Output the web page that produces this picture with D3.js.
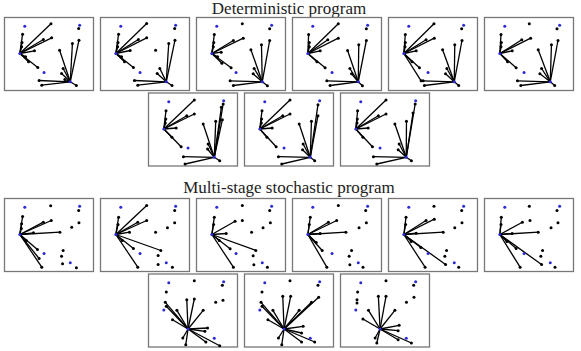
<!DOCTYPE html>
<html>
<head>
<meta charset="utf-8">
<script src="https://cdn.jsdelivr.net/npm/d3@7"></script>
<style>
  html, body { margin: 0; padding: 0; background: #fff; }
  svg { display: block; }
</style>
</head>
<body>
<svg id="chart" width="581" height="351"></svg>
<script>
// Candidate facility sites (blue), shared by every panel: [x, y] in panel units.
const sites = [[20.5, 8.7], [76, 7.7], [15.5, 36], [40, 55], [66.5, 64.3]];

// Customers per scenario: [x, y, site it is assigned to, or -1 if unserved].
const det1 = [[47,6.3,2],[18.3,16.7,2],[17.7,25,2],[17.3,29.3,2],[39.3,22,2],[47.7,20.3,2],[30.3,33.3,2],[21.3,39.3,2],[24.3,44.3,2],[33.7,50,2],
  [75,11,-1],[55.7,32.7,4],[68.7,26,4],[75.3,22.7,4],[59.3,51,4],[57.7,56,4],[35,63,4],[37.7,67.7,4],[72.7,68,4],[61,62,4]];
const det2 = [[46.7,6,2],[18.3,16.7,2],[17.7,25,2],[17.3,29.3,2],[38.3,22,2],[46.7,20.3,2],[30,33,2],[21.3,39.3,2],[24.3,44.3,2],[33.3,50,2],
  [75,11,-1],[55.7,32.7,-1],[69,26,4],[75.3,22.7,4],[60,51,4],[57.3,56,4],[34.3,63,4],[37.7,67.7,4],[72.3,68,4]];
const det3 = [[46.3,6.3,-1],[18,17,2],[17.5,25,2],[17,29.3,2],[37.3,23,2],[47.3,20.7,2],[25,34.7,2],[21.3,39.3,2],[25.7,45.7,2],[35,50.3,2],
  [74,11.3,-1],[55,32.3,4],[65.7,27.3,4],[74,23,4],[58.3,51,4],[57.3,56.3,4],[34,63.3,4],[37.3,68,4],[71.7,68.3,4]];
const det4 = [[46.3,6.3,2],[16.3,17,2],[17,25,2],[17,29.3,2],[35.7,22.3,2],[46.3,20.7,2],[28,33.3,2],[24.7,44.3,2],[33,50.3,2],
  [74.7,11.3,-1],[55.7,33,4],[67,27.3,4],[74.7,23,4],[58,51,4],[59.7,56.3,4],[34.7,63.3,4],[38,68,4],[70.7,68.3,4]];
const det5 = [[46,6.3,2],[17,17,2],[17,25,2],[16.7,29.3,2],[38,22.3,2],[46.3,20.7,2],[28,33.3,2],[23.7,44.3,2],[31.3,50.3,2],[33,63.3,2],
  [74,11.3,-1],[54.7,32.3,4],[67,27.3,4],[74.3,23,4],[59,51,4],[57.7,56.3,4],[35,63.3,4],[36.3,68,4],[71,68,4]];
const det6 = [[45.3,6.3,-1],[16.7,17,2],[17,25,2],[16.7,29.3,2],[37.7,22.3,2],[46.7,20.7,2],[28,33.3,2],[23.3,44.3,2],[32,50.3,2],
  [73.3,11.3,-1],[54.3,32.3,4],[67.7,27.3,4],[74.3,23,4],[57.7,51,4],[56,56.3,4],[33.3,63.3,4],[36.7,68,4],[71,68,4]];
const det7 = [[46.3,7,2],[17.7,17.7,2],[17.5,26,2],[17,30,2],[38.7,22.7,2],[46.3,21,2],[28,35,2],[23.7,44.3,2],[33,53.7,2],
  [75.5,11,4],[73.7,14.3,4],[55.3,31,4],[68,28.3,4],[74.7,26.7,4],[60.3,51,4],[59.7,56,4],[35.3,63.7,4],[37,71,4],[72,67.7,4]];
const det8 = [[46,7,2],[17.7,17.7,2],[17.3,26,2],[17,30,2],[38.7,22.7,2],[46,21,2],[28,35,2],[22.7,44.3,2],[32,53.7,2],
  [74.3,11.7,4],[74.3,22.7,4],[55.3,31,4],[67.7,28.3,4],[59.3,51,4],[58.7,56.7,4],[34.3,63.7,4],[37.7,71,4],[71,67.7,4]];
const det9 = [[46,7,2],[17.3,17.7,2],[17,26,2],[16.7,30,2],[38.3,22.7,2],[46,21,2],[28,35,2],[22.7,44.3,2],[32.3,53.7,2],
  [75.5,11,4],[73.3,20,4],[55,31,4],[66.7,28.3,4],[59.3,51,4],[58.3,56.7,4],[33.3,63.7,4],[36.7,71,4],[71.7,67.7,4]];

const sto1 = [[18.3,18,2],[17.3,25.3,2],[17,30,2],[39.3,23.7,2],[47.3,22,2],[56,33.7,2],[29.3,34.3,2],[22,42,2],[33.3,51,2],[35,60,2],[37.7,68.7,2],
  [46.7,7.3,-1],[75,12,-1],[68,28.7,-1],[75.3,24.3,-1],[59.3,52,-1],[57.7,57.7,-1],[58.7,65.3,-1],[72.7,69.3,-1]];
const sto2 = [[46.7,7,2],[18.3,18.7,2],[17.7,26,2],[37.7,23.7,2],[46.7,22,2],[29.3,33.7,2],[61,52,2],[22,42,2],[33.3,50,2],[37.7,68.7,2],
  [75,12,-1],[55.7,33.7,-1],[67.7,29.3,-1],[75,24.3,-1],[58.3,57,-1],[58.3,66,-1],[72.7,68.7,-1]];
const sto3 = [[18,18.7,2],[17.3,26,2],[39,22.7,2],[60,52,2],[34,50.3,2],[37.3,68.7,2],[23,42,2],[30,35,2],
  [46.3,7,-1],[74,12,-1],[46.3,22,-1],[55.7,33.7,-1],[67.3,29.3,-1],[74.7,24.3,-1],[57.3,57.3,-1],[58,66.3,-1],[71.7,68.7,-1]];
const sto4 = [[18,18.7,2],[17,26,2],[36.3,23.7,2],[44.7,22,2],[54,33.7,2],[28,35,2],[24,44,2],[34.7,68.7,2],[30,52,2],
  [46.3,7,-1],[74,12,-1],[67.3,29.3,-1],[74.7,24.3,-1],[59.7,52,-1],[57.3,57.7,-1],[58,66.3,-1],[71.3,68.7,-1]];
const sto5 = [[17.7,18.7,2],[17.3,26,2],[38,22,2],[46.3,20.7,2],[55.3,33.7,2],[28,34.7,2],[23,43,2],[32.7,49,2],[37,68.7,2],[57.7,66,2],
  [46,7.7,-1],[74,12,-1],[67,29.3,-1],[74.3,24.3,-1],[58.7,52,-1],[57,57.7,-1],[71,68.7,-1]];
const sto6 = [[17,18.7,2],[16.7,26,2],[38.3,23.7,2],[54.3,33.7,2],[28,35,2],[22.7,43,2],[32,50,2],[36,68.7,2],[57.7,66,2],
  [45.3,7.7,-1],[73.3,12,-1],[46,22,-1],[67.3,29.3,-1],[74.3,24.3,-1],[58.7,52,-1],[57,57.7,-1],[71.3,68.7,-1]];
const sto7 = [[17,28.3,3],[18,32.3,3],[38.7,25.7,3],[46.3,25,3],[28.7,36.3,3],[55.3,36.3,3],[24.3,45.7,3],[59.7,54,3],[57,57.3,3],[34.7,64,3],[37.7,70.7,3],[58,68,3],[72,71.7,3],
  [46.3,6.7,-1],[74.7,11.3,-1],[18,18,-1],[68,28.3,-1],[75.3,26.3,-1]];
const sto8 = [[16.7,28.3,3],[17.7,32.3,3],[38.7,22.3,3],[46.7,22.3,3],[67.7,28.3,3],[75,23.3,3],[28.7,36.3,3],[55.3,36.3,3],[23.7,45.7,3],[59.3,52.3,3],[57.7,59,3],[34.3,64,3],[37.7,70.7,3],[57.7,68,3],[71,68,3],
  [46,6.7,-1],[74.3,11.3,-1],[17.7,18,-1]];
const sto9 = [[38.3,22.3,3],[46,22.3,3],[28.3,36.3,3],[55,36.3,3],[22.7,45,3],[59.3,51.3,3],[58.3,56.7,3],[35,64,3],[36.7,69,3],[58.3,65.7,3],[71.7,69,3],
  [46,6.7,-1],[74,11.3,-1],[17.3,18,-1],[16.7,25.7,-1],[16.7,29,-1],[66.7,28.3,-1],[74.3,23.3,-1]];

const titles = ['Deterministic program', 'Multi-stage stochastic program'];
const groups = [[det1, det2, det3, det4, det5, det6, det7, det8, det9],
                [sto1, sto2, sto3, sto4, sto5, sto6, sto7, sto8, sto9]];

const svg = d3.select('#chart');
const pw = 89, ph = 73;
const x = d3.scaleLinear().domain([0, 90]).range([0, pw]);
const y = d3.scaleLinear().domain([0, 73]).range([0, ph]);

// Layout: each group is a title, a row of six panels, then a centred row of three.
const groupTop = [17.5, 198.5];
const titleY = [13.5, 193];

groups.forEach((panels, gi) => {
  svg.append('text')
      .attr('x', 289)
      .attr('y', titleY[gi])
      .attr('text-anchor', 'middle')
      .attr('font-family', 'Liberation Serif, serif')
      .attr('font-size', '17px')
      .attr('fill', '#222')
      .text(titles[gi]);

  panels.forEach((cust, i) => {
    const row = i < 6 ? 0 : 1;
    const col = row === 0 ? i : i - 6;
    const left = (row === 0 ? 4.5 : 148.5) + col * 96;
    const top = groupTop[gi] + row * 75.5;
    const g = svg.append('g').attr('transform', `translate(${left},${top})`);

    g.append('rect')
        .attr('width', pw).attr('height', ph)
        .attr('fill', 'none')
        .attr('stroke', '#777')
        .attr('stroke-width', 1.3);

    g.append('g')
        .attr('stroke', '#000')
        .attr('stroke-width', 1.3)
      .selectAll('line')
      .data(cust.filter(d => d[2] >= 0))
      .join('line')
        .attr('x1', d => x(sites[d[2]][0]))
        .attr('y1', d => y(sites[d[2]][1]))
        .attr('x2', d => x(d[0]))
        .attr('y2', d => y(d[1]));

    g.append('g').attr('fill', '#000')
      .selectAll('circle')
      .data(cust)
      .join('circle')
        .attr('cx', d => x(d[0]))
        .attr('cy', d => y(d[1]))
        .attr('r', 1.5);

    g.append('g').attr('fill', '#2a2ad8')
      .selectAll('circle')
      .data(sites)
      .join('circle')
        .attr('cx', d => x(d[0]))
        .attr('cy', d => y(d[1]))
        .attr('r', 1.5);
  });
});
</script>
</body>
</html>
